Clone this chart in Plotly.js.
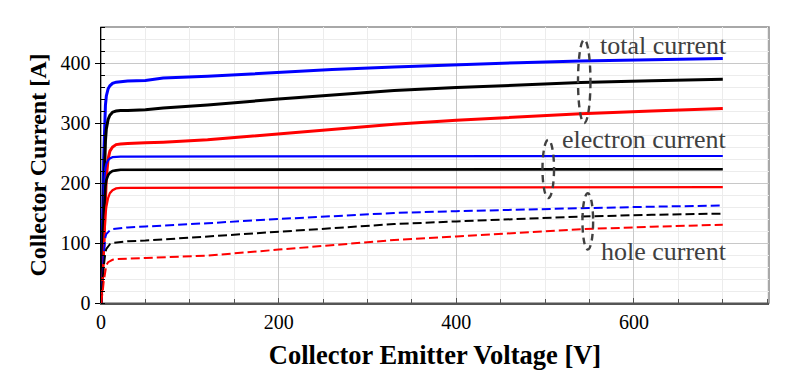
<!DOCTYPE html>
<html>
<head>
<meta charset="utf-8">
<script src="https://cdn.plot.ly/plotly-3.0.1.min.js"></script>
<style>
html,body{margin:0;padding:0;background:#fff;}
#chart{width:800px;height:373px;}
</style>
</head>
<body>
<div id="chart"></div>
<script>
// Collector-emitter voltage samples [V]
const voltage = [0,1,2,3,4,5,6,8,10,13,17,22,30,50,70,120,200,260,330,400,470,540,620,700];

// Total current [A]
const totalBlue  = [0,60,150,240,300,330,345,357,362,366,368,369,370,371,375,378,385,389,393.5,397.5,400.5,403.5,405.5,407.5];
const totalBlack = [0,40,100,170,230,270,290,306,313,318,320,321,321,322,325,330,340,346,354,359,363.5,367.5,370.5,373];
const totalRed   = [0,20,50,90,140,180,210,240,253,260,264,265,266,267,268,272,282,289,298,304.5,310,315.5,320,324];

// Electron current [A]
const electronBlue  = [0,50,120,180,210,225,232,238,241,243,244,244,244,244,244,244,244,244,244.5,244.5,245,245,245,245];
const electronBlack = [0,35,90,140,175,195,205,213,217,220,221,222,222,222,222,222,222,222,222.5,222.5,223,223,223,223];
const electronRed   = [0,20,50,85,120,145,160,175,183,188,191,192,192,192,192,192.5,193,193,193,193,193,193,193,193];

// Hole current [A]
const holeBlue  = [0,20,50,80,100,110,115,119,121,123,124,125,126,127.5,129,133,140,145,150,153,156,158,160.5,162.5];
const holeBlack = [0,15,40,60,75,85,90,95,98,100,101,102,103,104,106,110,118,125,131.5,136,140,144,147,149];
const holeRed   = [0,8,20,35,48,57,63,68,70,72,73,73.5,74,75,76,79,89,96,105,111,117,123,127,130.5];

const xTickVals = [0,200,400,600];
const yTickVals = [0,100,200,300,400];

const groupLabels = ["total current","electron current","hole current"];

const serif = "Times New Roman, Liberation Serif, DejaVu Serif, serif";

function tr(y, color, width, dash){
  return {x: voltage, y: y, type:'scatter', mode:'lines',
    line:{color:color, width:width, dash:dash||'solid'}, hoverinfo:'skip', showlegend:false};
}
const dashPat = '9px,4px';
const data = [
  tr(totalBlue,'#0000ff',3), tr(totalBlack,'#000000',3), tr(totalRed,'#ff0000',3),
  tr(electronBlue,'#0000ff',2.2), tr(electronBlack,'#000000',2.6), tr(electronRed,'#ff0000',2.2),
  tr(holeBlue,'#0000ff',2, dashPat), tr(holeBlack,'#000000',2, dashPat), tr(holeRed,'#ff0000',2, dashPat)
];

const ellDash = '7px,5px';
const ellLine = {color:'#404040', width:2.4, dash:ellDash};
const annFont = {family:serif, size:26, color:'#404040', weight:'normal'};
const tickFont = {family:serif, size:20, color:'#000', weight:'normal'};
const layout = {
  width:800, height:373,
  margin:{l:101, r:31, t:27, b:70},
  paper_bgcolor:'#fff', plot_bgcolor:'#fff',
  font:{family:serif, color:'#000', size:20},
  xaxis:{
    range:[0,752], tickvals:xTickVals, ticktext:xTickVals.map(String),
    showgrid:true, gridcolor:'#c8c8c8', gridwidth:1,
    zeroline:false, showline:true, linecolor:'#555', linewidth:1.5,
    ticks:'inside', ticklen:5, tickcolor:'#555',
    minor:{dtick:50, showgrid:true, gridcolor:'#ececec', ticks:'inside', ticklen:4, tickcolor:'#555'},
    tickfont:tickFont,
    title:{text:'<b>Collector Emitter Voltage [V]</b>', font:{family:serif, size:26.5, color:'#000'}, standoff:14}
  },
  yaxis:{
    range:[0,460], tickvals:yTickVals, ticktext:yTickVals.map(String),
    showgrid:true, gridcolor:'#c8c8c8', gridwidth:1,
    zeroline:false, showline:true, linecolor:'#000', linewidth:1.5,
    ticks:'outside', ticklen:5, tickcolor:'#000',
    minor:{dtick:20, showgrid:true, gridcolor:'#ececec', ticks:'inside', ticklen:4, tickcolor:'#000'},
    tickfont:tickFont,
    title:{text:'<b>Collector Current [A]</b>', font:{family:serif, size:24, color:'#000'}, standoff:7}
  },
  shapes:[
    {type:'rect', xref:'paper', yref:'paper', x0:0, x1:1, y0:0, y1:1, line:{color:'#8c8c8c', width:1.5}, layer:'below'},
    {type:'circle', xref:'x', yref:'y', x0:537, x1:551, y0:300, y1:439, line:ellLine},
    {type:'circle', xref:'x', yref:'y', x0:497, x1:510, y0:175, y1:272, line:ellLine},
    {type:'circle', xref:'x', yref:'y', x0:542, x1:554, y0:89, y1:183, line:ellLine}
  ],
  annotations:[
    {x:707, y:430, xref:'x', yref:'y', xanchor:'right', yanchor:'middle', text:groupLabels[0], showarrow:false, font:annFont},
    {x:707, y:272, xref:'x', yref:'y', xanchor:'right', yanchor:'middle', text:groupLabels[1], showarrow:false, font:annFont},
    {x:707, y:86, xref:'x', yref:'y', xanchor:'right', yanchor:'middle', text:groupLabels[2], showarrow:false, font:annFont}
  ]
};
Plotly.newPlot('chart', data, layout, {displayModeBar:false, staticPlot:true});
</script>
</body>
</html>
